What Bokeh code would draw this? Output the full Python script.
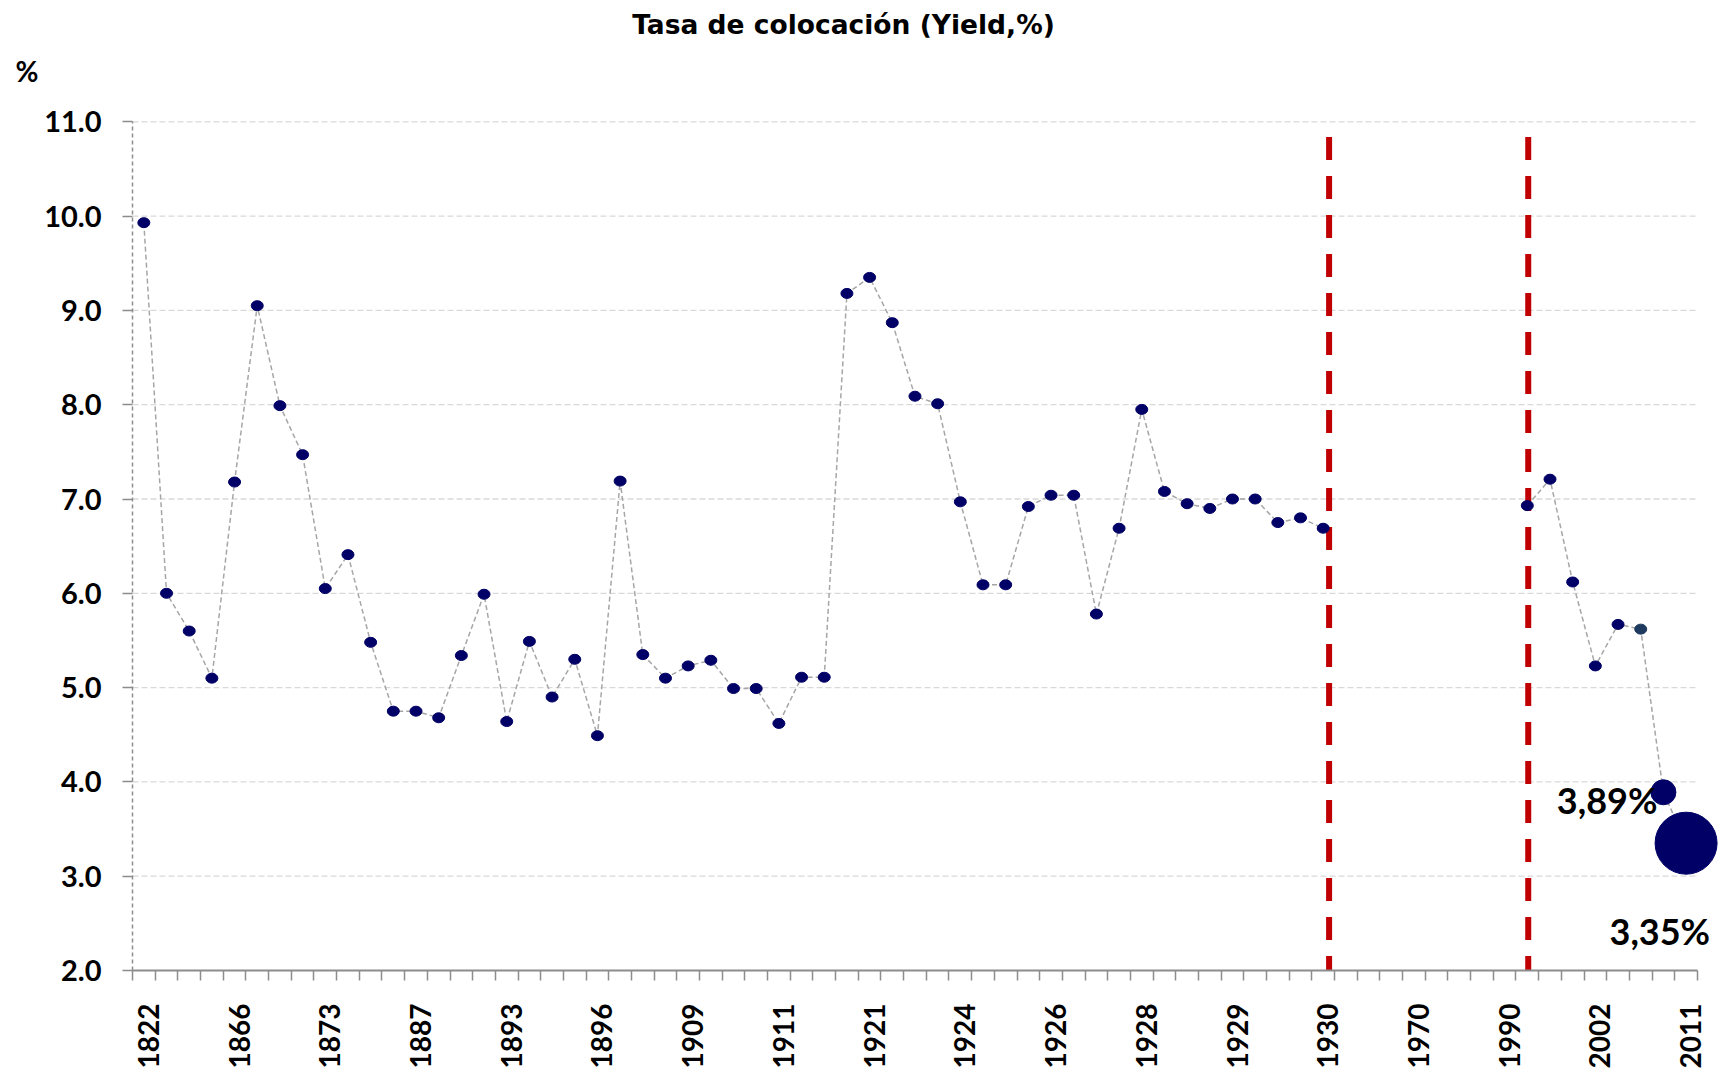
import math
from bokeh.plotting import figure
from bokeh.models import ColumnDataSource, FixedTicker, Label, Range1d, PrintfTickFormatter
from bokeh.embed import file_html
from bokeh.resources import INLINE

# ---------------- data ----------------
title_text = "Tasa de colocación (Yield,%)"
unit_text = "%"

n_categories = 69
label_step = 4  # every 4th category carries a visible label
tick_labels = ["1822", "1866", "1873", "1887", "1893", "1896", "1909", "1911", "1921",
               "1924", "1926", "1928", "1929", "1930", "1970", "1990", "2002", "2011"]

nan = float("nan")
yield_pct = [
    9.93, 6.00, 5.60, 5.10, 7.18, 9.05, 7.99, 7.47, 6.05, 6.41,
    5.48, 4.75, 4.75, 4.68, 5.34, 5.99, 4.64, 5.49, 4.90, 5.30,
    4.49, 7.19, 5.35, 5.10, 5.23, 5.29, 4.99, 4.99, 4.62, 5.11,
    5.11, 9.18, 9.35, 8.87, 8.09, 8.01, 6.97, 6.09, 6.09, 6.92,
    7.04, 7.04, 5.78, 6.69, 7.95, 7.08, 6.95, 6.90, 7.00, 7.00,
    6.75, 6.80, 6.69, nan, nan, nan, nan, nan, nan, nan,
    nan, 6.93, 7.21, 6.12, 5.23, 5.67, 5.62, 3.89, 3.35,
]
y_ticks = [2.0, 3.0, 4.0, 5.0, 6.0, 7.0, 8.0, 9.0, 10.0, 11.0]
highlight_text = {67: "3,89%", 68: "3,35%"}
period_breaks = [52.26, 61.04]   # dashed red separators (category units)
period_break_top = 10.84

# ---------------- styles / geometry ----------------
FONT = "Lato"
TITLE_FONT = "DejaVu Sans"
W, H = 1718, 1071
AX_LEFT_PX, CAT_W = 132.0, 22.68      # y-axis position and width of one category
AX_BOTTOM_PX, UNIT_PX = 970.0, 94.3    # x-axis position and pixels per 1 %-point

marker_color = ["#000066"] * n_categories
marker_color[66] = "#1F3A5F"
marker_w = [12] * n_categories
marker_h = [10] * n_categories
marker_w[67], marker_h[67] = 25, 25
marker_w[68], marker_h[68] = 62, 62


def px_x(px):
    return -0.5 + (px - AX_LEFT_PX) / CAT_W


def px_y(py):
    return y_ticks[0] + (AX_BOTTOM_PX - py) / UNIT_PX


src = ColumnDataSource(dict(
    x=list(range(n_categories)), y=yield_pct,
    w=marker_w, h=marker_h, c=marker_color,
))

p = figure(width=W, height=H, output_backend="svg", toolbar_location=None,
           x_range=Range1d(px_x(0), px_x(W)), y_range=Range1d(px_y(H), px_y(0)),
           min_border=0, min_border_left=0, min_border_right=0,
           min_border_top=0, min_border_bottom=0)
p.title.text = ""
p.title.visible = False
p.outline_line_color = None
p.xgrid.visible = False
p.ygrid.visible = False

# horizontal grid lines
grid_y = y_ticks[1:]
p.segment(x0=[-0.5] * len(grid_y), x1=[n_categories - 0.5] * len(grid_y),
          y0=grid_y, y1=grid_y, line_color="#D9D9D9", line_width=1.3,
          line_dash="6 3")

# red period separators
p.segment(x0=period_breaks, x1=period_breaks,
          y0=[period_break_top] * len(period_breaks), y1=[y_ticks[0]] * len(period_breaks),
          line_color="#C00000", line_width=6, line_dash="23 16", line_cap="butt")

# connecting line
p.line("x", "y", source=src, line_color="#A6A6A6", line_width=1.5, line_dash="5 3")

# markers
p.ellipse(x="x", y="y", width="w", height="h", width_units="screen",
          height_units="screen", source=src, fill_color="c", line_color="c")

# ---------------- axes ----------------
xa = p.xaxis[0]
xa.fixed_location = y_ticks[0]
major = [i * label_step + 0.2 for i in range(len(tick_labels))]
xa.ticker = FixedTicker(ticks=major, minor_ticks=[i - 0.5 for i in range(n_categories + 1)])
xa.major_label_overrides = {m: lab for m, lab in zip(major, tick_labels)}
xa.bounds = (-0.5, n_categories - 0.5)
xa.axis_line_color = "#8C8C8C"
xa.axis_line_width = 2
xa.major_tick_out = 0
xa.major_tick_in = 0
xa.major_tick_line_color = None
xa.minor_tick_in = 0
xa.minor_tick_out = 10
xa.minor_tick_line_color = "#8C8C8C"
xa.minor_tick_line_width = 1.5
xa.major_label_orientation = math.pi / 2
xa.major_label_standoff = 23
xa.major_label_text_font = FONT
xa.major_label_text_font_style = "bold"
xa.major_label_text_font_size = "28px"
xa.major_label_text_color = "black"

ya = p.yaxis[0]
ya.fixed_location = -0.5
ya.ticker = FixedTicker(ticks=y_ticks, minor_ticks=[])
ya.formatter = PrintfTickFormatter(format="%.1f")
ya.bounds = (y_ticks[0], y_ticks[-1])
ya.axis_line_color = "#8C8C8C"
ya.axis_line_width = 1.5
ya.axis_line_dash = "4 3"
ya.major_tick_out = 10
ya.major_tick_in = 0
ya.major_tick_line_color = "#8C8C8C"
ya.major_tick_line_width = 1.5
ya.minor_tick_line_color = None
ya.major_label_standoff = 21
ya.major_label_text_font = FONT
ya.major_label_text_font_style = "bold"
ya.major_label_text_font_size = "29px"
ya.major_label_text_color = "black"

# ---------------- texts ----------------
p.add_layout(Label(x=px_x(843), y=px_y(24), text=title_text, text_align="center",
                   text_baseline="alphabetic", text_font=TITLE_FONT, text_font_style="bold",
                   text_font_size="26.5px", text_color="black"))
p.add_layout(Label(x=px_x(15), y=px_y(70), text=unit_text, text_align="left",
                   text_baseline="alphabetic", text_font=FONT, text_font_style="bold",
                   text_font_size="28px", text_color="black"))

lbl_offsets = {67: (-6, -8), 68: (24, -88)}
for i, txt in highlight_text.items():
    dx, dy = lbl_offsets[i]
    p.add_layout(Label(x=i, y=yield_pct[i], text=txt, x_offset=dx, y_offset=dy,
                       text_align="right", text_baseline="alphabetic", text_font=FONT,
                       text_font_style="bold", text_font_size="36px", text_color="black"))

open("out.html", "w").write(file_html(p, INLINE))
